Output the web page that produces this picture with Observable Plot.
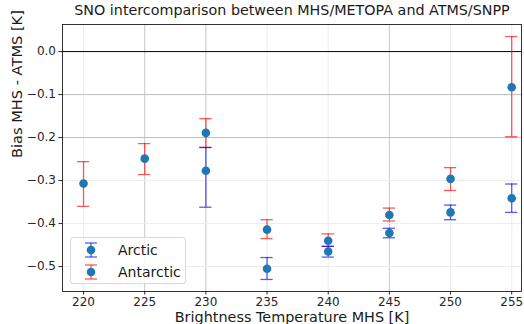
<!DOCTYPE html>
<html>
<head>
<meta charset="utf-8">
<script src="https://cdn.jsdelivr.net/npm/d3@7"></script>
<script src="https://cdn.jsdelivr.net/npm/@observablehq/plot@0.6"></script>
<style>
  html, body { margin: 0; padding: 0; background: #fff; }
  #wrap { position: relative; width: 524px; height: 324px; font-family: "DejaVu Sans", sans-serif; }
  #legend { position: absolute; left: 70px; top: 237px; width: 116px; height: 47px; border: 1px solid #d9d9d9; border-radius: 3px; background: rgba(255,255,255,0.8); box-sizing: border-box; font-size: 14px; color: #1a1a1a; }
  .item { position: absolute; left: 7px; display: flex; align-items: center; }
  .item span { margin-left: 14px; }
</style>
</head>
<body>
<div id="wrap"></div>
<script>
// Data
const channels = [220, 225, 230, 235, 240, 245, 250, 255];

const arcticX     = [230, 235, 240, 245, 250, 255];
const arcticBias  = [-0.277, -0.505, -0.465, -0.422, -0.374, -0.341];
const arcticLow   = [-0.362, -0.530, -0.478, -0.433, -0.391, -0.374];
const arcticHigh  = [-0.223, -0.479, -0.453, -0.411, -0.357, -0.308];

const antarcticX    = [220, 225, 230, 235, 240, 245, 250, 255];
const antarcticBias = [-0.307, -0.249, -0.189, -0.414, -0.440, -0.380, -0.296, -0.083];
const antarcticLow  = [-0.360, -0.286, -0.223, -0.435, -0.453, -0.394, -0.323, -0.198];
const antarcticHigh = [-0.256, -0.214, -0.156, -0.391, -0.424, -0.364, -0.270, 0.035];

const yTicks = [0.0, -0.1, -0.2, -0.3, -0.4, -0.5];

const titleText = "SNO intercomparison between MHS/METOPA and ATMS/SNPP";
const xLabel = "Brightness Temperature MHS [K]";
const yLabel = "Bias MHS - ATMS [K]";

const arctic = arcticX.map((x, i) => ({x, y: arcticBias[i], lo: arcticLow[i], hi: arcticHigh[i]}));
const antarctic = antarcticX.map((x, i) => ({x, y: antarcticBias[i], lo: antarcticLow[i], hi: antarcticHigh[i]}));

const capHalf = 0.5;
const blue = "rgba(0,0,255,0.65)";
const red = "rgba(255,0,0,0.65)";
const darkX = new Set([225, 230, 245]);
const darkY = new Set([-0.1, -0.2]);

const chart = Plot.plot({
  width: 524,
  height: 324,
  marginLeft: 62,
  marginRight: 3,
  marginTop: 24,
  marginBottom: 33,
  style: {fontFamily: "DejaVu Sans, sans-serif", fontSize: "12px", color: "#262626", background: "#fff"},
  x: {domain: [218.28, 255.8]},
  y: {domain: [-0.558, 0.063]},
  marks: [
    Plot.ruleX(channels, {stroke: d => darkX.has(d) ? "#c8c8c8" : "#ececec", strokeWidth: 1}),
    Plot.ruleY(yTicks.filter(d => d !== 0), {stroke: d => darkY.has(d) ? "#bdbdbd" : "#ececec", strokeWidth: 1}),
    Plot.ruleY([0], {stroke: "#000", strokeWidth: 1}),
    Plot.axisX({ticks: channels, tickSize: 3.5, tickPadding: 2, fontSize: 12, label: null}),
    Plot.axisY({ticks: yTicks, tickSize: 3.5, tickPadding: 3, tickFormat: d3.format(".1f"), fontSize: 12, label: null}),
    // Antarctic error bars
    Plot.ruleX(antarctic, {x: "x", y1: "lo", y2: "hi", stroke: red, strokeWidth: 1.3}),
    Plot.ruleY(antarctic, {y: "lo", x1: d => d.x - capHalf, x2: d => d.x + capHalf, stroke: red, strokeWidth: 1.3}),
    Plot.ruleY(antarctic, {y: "hi", x1: d => d.x - capHalf, x2: d => d.x + capHalf, stroke: red, strokeWidth: 1.3}),
    // Arctic error bars
    Plot.ruleX(arctic, {x: "x", y1: "lo", y2: "hi", stroke: blue, strokeWidth: 1.3}),
    Plot.ruleY(arctic, {y: "lo", x1: d => d.x - capHalf, x2: d => d.x + capHalf, stroke: blue, strokeWidth: 1.3}),
    Plot.ruleY(arctic, {y: "hi", x1: d => d.x - capHalf, x2: d => d.x + capHalf, stroke: blue, strokeWidth: 1.3}),
    Plot.dot(arctic, {x: "x", y: "y", r: 4.3, fill: "#1f77b4"}),
    Plot.dot(antarctic, {x: "x", y: "y", r: 4.3, fill: "#1f77b4"}),
    Plot.frame({stroke: "#000", strokeWidth: 0.8}),
    Plot.text([titleText], {text: d => d, frameAnchor: "top", dy: -10, fontSize: 14.3, fill: "#1a1a1a", lineAnchor: "bottom"}),
    Plot.text([xLabel], {text: d => d, frameAnchor: "bottom", dy: 26, fontSize: 14.4, fill: "#1a1a1a", lineAnchor: "middle"}),
    Plot.text([yLabel], {text: d => d, frameAnchor: "left", dx: -45, rotate: -90, fontSize: 14.6, fill: "#1a1a1a", lineAnchor: "middle"})
  ]
});

const wrap = document.getElementById("wrap");
wrap.appendChild(chart);

function legendGlyph(color) {
  return `<svg width="26" height="20"><line x1="13" y1="3" x2="13" y2="17" stroke="${color}" stroke-width="1.3"/><line x1="7" y1="3" x2="19" y2="3" stroke="${color}" stroke-width="1.3"/><line x1="7" y1="17" x2="19" y2="17" stroke="${color}" stroke-width="1.3"/><circle cx="13" cy="10" r="4.3" fill="#1f77b4"/></svg>`;
}
const legend = document.createElement("div");
legend.id = "legend";
legend.innerHTML = `<div class="item" style="top:2px">${legendGlyph(blue)}<span>Arctic</span></div><div class="item" style="top:24px">${legendGlyph(red)}<span>Antarctic</span></div>`;
wrap.appendChild(legend);
</script>
</body>
</html>
